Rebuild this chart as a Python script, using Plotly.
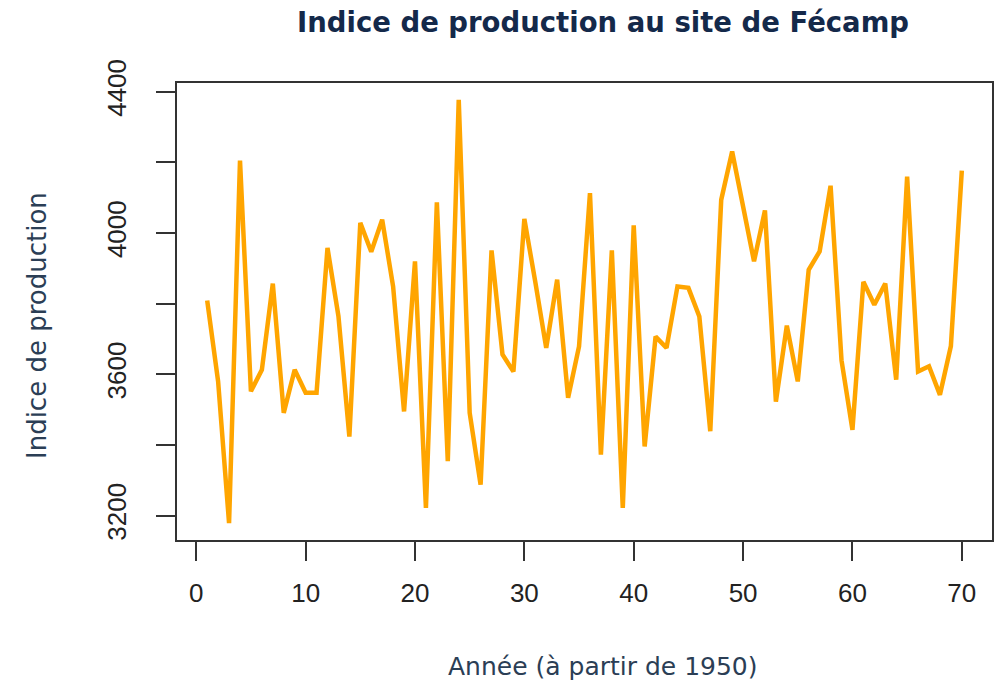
import plotly.graph_objects as go

# Data
annees = list(range(1, 71))
indice = [
    3809, 3580, 3179, 4205, 3552, 3613, 3857, 3491, 3613, 3548,
    3548, 3958, 3765, 3424, 4029, 3947, 4038, 3849, 3495, 3920,
    3222, 4087, 3354, 4377, 3491, 3288, 3951, 3656, 3608, 4040,
    3862, 3675, 3868, 3534, 3679, 4113, 3373, 3951, 3222, 4022,
    3396, 3707, 3675, 3849, 3845, 3764, 3439, 4094, 4231, 4080,
    3920, 4064, 3523, 3738, 3580, 3896, 3948, 4134, 3640, 3443,
    3862, 3797, 3857, 3585, 4160, 3608, 3623, 3542, 3680, 4177,
]
x_ticks = [0, 10, 20, 30, 40, 50, 60, 70]
y_ticks = [3200, 3400, 3600, 3800, 4000, 4200, 4400]
y_ticktext = ["3200", "", "3600", "", "4000", "", "4400"]

titre = "Indice de production au site de Fécamp"
titre_x = "Année (à partir de 1950)"
titre_y = "Indice de production"

# R-style 4% axis extension
xmin, xmax = min(annees), max(annees)
ymin, ymax = min(indice), max(indice)
xpad = 0.04 * (xmax - xmin)
ypad = 0.04 * (ymax - ymin)

W, H = 996, 683
plot_l, plot_r, plot_t, plot_b = 177, 992, 83, 540

fig = go.Figure()
fig.add_trace(go.Scatter(
    x=annees, y=indice, mode="lines",
    line=dict(color="#FFA500", width=4.5),
    showlegend=False, hoverinfo="x+y",
))

axis_common = dict(
    showgrid=False, zeroline=False, automargin=False,
    showline=True, linecolor="#333333", linewidth=2, mirror=True,
    ticks="outside", ticklen=19, tickwidth=2, tickcolor="#333333",
    tickfont=dict(family="Liberation Sans, Arial, sans-serif", size=26, color="#222222"),
)


def to_paper(px, py):
    return (px - plot_l) / (plot_r - plot_l), (plot_b - py) / (plot_b - plot_t)


xl_x, xl_y = to_paper(603, 666)
yl_x, yl_y = to_paper(37, 326)

fig.update_layout(
    width=W, height=H,
    paper_bgcolor="white", plot_bgcolor="white",
    margin=dict(l=plot_l, r=W - plot_r, t=plot_t, b=H - plot_b, autoexpand=False),
    xaxis=dict(range=[xmin - xpad, xmax + xpad], tickvals=x_ticks,
               ticklabelstandoff=10, **axis_common),
    yaxis=dict(range=[ymin - ypad, ymax + ypad], tickvals=y_ticks,
               ticktext=y_ticktext, tickangle=-90,
               ticklabelstandoff=20, **axis_common),
    title=dict(text="<b>" + titre + "</b>", x=603 / W, xanchor="center",
               y=1 - 22 / H, yanchor="middle", xref="container", yref="container",
               font=dict(family="DejaVu Sans, sans-serif", size=27.5, color="#14294a")),
    annotations=[
        dict(text=titre_x, x=xl_x, y=xl_y, xref="paper", yref="paper",
             xanchor="center", yanchor="middle", showarrow=False,
             font=dict(family="DejaVu Sans, sans-serif", size=25, color="#2b3e55")),
        dict(text=titre_y, x=yl_x, y=yl_y, xref="paper", yref="paper",
             xanchor="center", yanchor="middle", showarrow=False, textangle=-90,
             font=dict(family="DejaVu Sans, sans-serif", size=26, color="#2b3e55")),
    ],
)

fig.write_html(
    "out.html",
    config={"displayModeBar": False},
    post_script="document.body.style.margin='0';document.body.style.padding='0';",
)
